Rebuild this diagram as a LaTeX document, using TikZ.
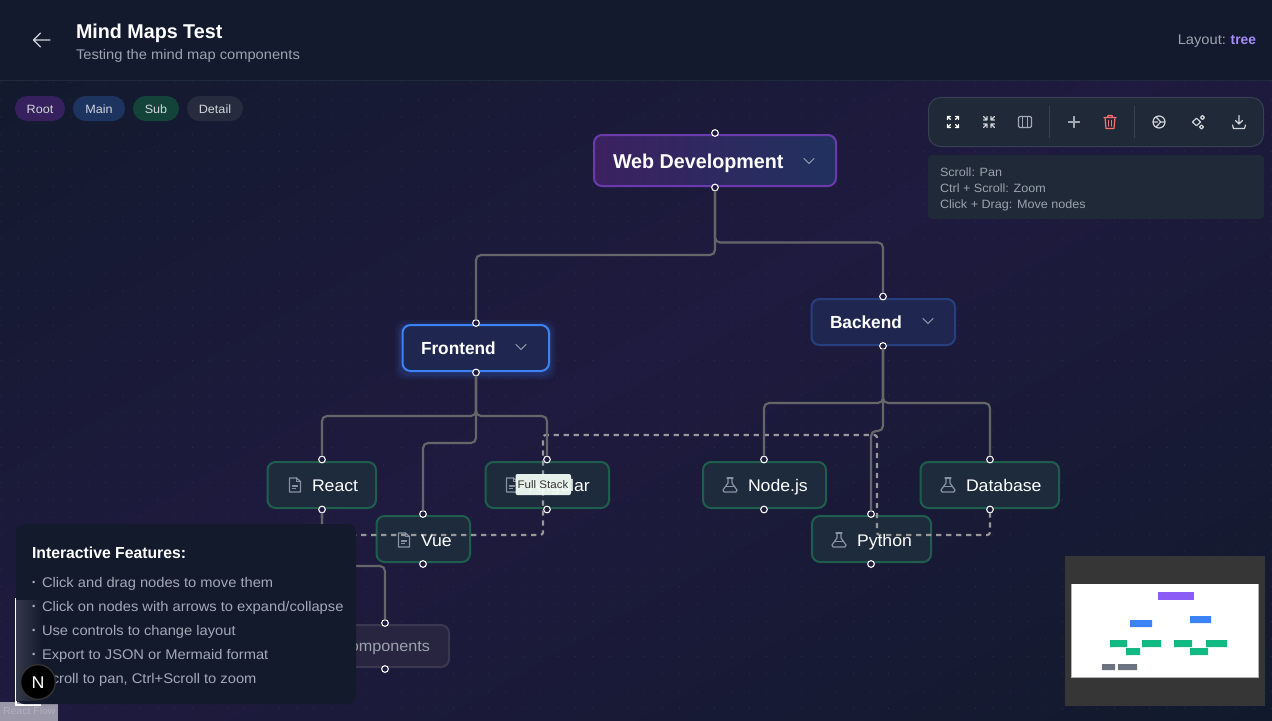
\documentclass[tikz,border=0pt]{standalone}
\usepackage{fontspec}
\setmainfont[FakeStretch=1.05,BoldFeatures={FakeStretch=0.985}]{Liberation Sans}
\usetikzlibrary{calc}
\definecolor{bgA}{HTML}{111A2C}
\definecolor{bgB}{HTML}{1F1A3F}
\definecolor{headbg}{HTML}{131A2E}
\definecolor{headline}{HTML}{1F2A3C}
\definecolor{dotc}{HTML}{312E48}
\definecolor{mutedtxt}{HTML}{9CA3AF}
\definecolor{paneltxt}{HTML}{A3A9B5}
\definecolor{edgec}{HTML}{666669}
\definecolor{dashc}{HTML}{98989B}
\definecolor{subfill}{HTML}{1D2B3D}
\definecolor{subline}{HTML}{1F5E4C}
\definecolor{mainfill}{HTML}{1F2750}
\definecolor{mainline}{HTML}{263F7E}
\definecolor{selline}{HTML}{3B82F6}
\definecolor{detfill}{HTML}{272540}
\definecolor{detline}{HTML}{3A3850}
\definecolor{rootline}{HTML}{6B3BAE}
\definecolor{rootL}{HTML}{3C2161}
\definecolor{rootR}{HTML}{20315F}
\definecolor{pillR}{HTML}{36215E}
\definecolor{pillM}{HTML}{1D3461}
\definecolor{pillS}{HTML}{14433A}
\definecolor{pillD}{HTML}{272B3E}
\definecolor{toolbg}{HTML}{1F2937}
\definecolor{toolline}{HTML}{374151}
\definecolor{iconc}{HTML}{D1D5DB}
\definecolor{plusc}{HTML}{A3A9B3}
\definecolor{redc}{HTML}{F87171}
\definecolor{icongray}{HTML}{8792A2}
\definecolor{chevc}{HTML}{9CA3AF}
\definecolor{panelbg}{HTML}{131A2C}
\definecolor{purpc}{HTML}{A78BFA}
\definecolor{mintc}{HTML}{F3FDF6}
\definecolor{mmP}{HTML}{8B5CF6}
\definecolor{mmB}{HTML}{3B82F6}
\definecolor{mmG}{HTML}{10B981}
\definecolor{mmD}{HTML}{6B7280}
\pgfdeclarehorizontalshading{bgsh}{100bp}{color(0bp)=(bgA); color(37.5bp)=(bgA); color(50bp)=(bgB); color(62.5bp)=(bgA); color(100bp)=(bgA)}
\newcommand\fs[1]{\fontsize{\fpeval{#1*0.75}}{\fpeval{#1*0.9}}\selectfont}
\newcommand\boxnode[6]{\node[#2,minimum width={(#4-#3)*0.75pt},minimum height={(#6-#5)*0.75pt}] (#1) at ({(#3+#4)/2},{(#5+#6)/2}) {};}
\newcommand\chev[2]{\draw[iconline,chevc,line width=0.75pt] (#1-5,#2-2.5) -- (#1,#2+2.5) -- (#1+5,#2-2.5);}
\newcommand\blt{\makebox[7.5pt][l]{\raisebox{1pt}{\fs{9}•}}}
\newcommand\fileicon[2]{\begin{scope}[shift={(#1,#2)},iconline,icongray]
  \draw[line join=round] (-5.5,-7) -- (1.5,-7) -- (5.5,-3.5) -- (5.5,7) -- (-5.5,7) -- cycle;
  \draw (1.5,-7) -- (1.5,-3.5) -- (5.5,-3.5);
  \draw (-2.5,1) -- (2.5,1) (-2.5,3.5) -- (0.5,3.5);
\end{scope}}
\newcommand\flaskicon[2]{\begin{scope}[shift={(#1,#2)},iconline,icongray]
  \draw (-3,-7) -- (3,-7);
  \draw[line join=round] (-2,-7) -- (-2,-2) -- (-7,5) -- (-6,7) -- (6,7) -- (7,5) -- (2,-2) -- (2,-7);
  \draw (-4.5,1.5) -- (4.5,1.5);
\end{scope}}
\tikzset{
  every node/.style={inner sep=0pt,outer sep=0pt},
  iconline/.style={line width=0.9pt,line cap=round,line join=round},
  lbl/.style={font=\fs{#1},anchor=base west,text=white},
  lblc/.style={font=\fs{#1},anchor=base,text=white},
  rootbox/.style={rectangle,rounded corners=6pt,draw=rootline,line width=1.5pt,left color=rootL,right color=rootR},
  mainbox/.style={rectangle,rounded corners=6pt,draw=mainline,line width=1.5pt,fill=mainfill},
  selbox/.style={rectangle,rounded corners=6pt,draw=selline,line width=1.5pt,fill=mainfill},
  subbox/.style={rectangle,rounded corners=6pt,draw=subline,line width=1.5pt,fill=subfill},
  detbox/.style={rectangle,rounded corners=6pt,draw=detline,line width=1.5pt,fill=detfill},
  pill/.style={rectangle,rounded corners=9.3pt},
  hand/.style={circle,draw=white,fill=bgB,line width=0.8pt,minimum size=5pt},
  edge/.style={draw=edgec,line width=1.6pt,rounded corners=3.75pt},
  dashedge/.style={draw=dashc,line width=1.6pt,rounded corners=2pt,dash pattern=on 4pt off 3.5pt},
}
\begin{document}
\begin{tikzpicture}[x=0.75pt,y=-0.75pt]
\useasboundingbox (0,0) rectangle (1272,721);
\clip (0,0) rectangle (1272,721);
% page gradient
\shade[shading=bgsh,shading angle=-60.46] (636-1254,360.5-1254) rectangle (636+1254,360.5+1254);
% dot grid
\foreach \i in {0,...,73} \foreach \j in {4,...,41}
  \fill[dotc] ({1.1+\i*17.4},{12.5+\j*17.4}) circle (0.6);
% header
\fill[headbg] (0,0) rectangle (1272,80);
\draw[headline,line width=0.75pt] (0,80.5) -- (1272,80.5);
\draw[iconline,iconc,line width=1pt] (50,40) -- (33.5,40) (40.5,33) -- (33.5,40) -- (40.5,47);
\node[lbl=20,font=\fs{20}\bfseries] (title) at (76,38) {Mind Maps Test};
\node[lbl=14,text=mutedtxt] (subtitle) at (76,59) {Testing the mind map components};
\node[lbl=14,text=mutedtxt,anchor=base east] (layoutlbl) at (1226,45) {Layout:};
\node[lbl=14,text=purpc,font=\fs{14}\bfseries,anchor=base east] (layoutval) at (1256,45) {tree};
% legend
\boxnode{pillroot}{pill,fill=pillR}{15}{65}{96}{121}
\boxnode{pillmain}{pill,fill=pillM}{73}{125}{96}{121}
\boxnode{pillsub}{pill,fill=pillS}{133}{179}{96}{121}
\boxnode{pilldet}{pill,fill=pillD}{187}{243}{96}{121}
\node[lblc=12,text=iconc] (troot) at (40,113) {Root};
\node[lblc=12,text=iconc] (tmain) at (99,113) {Main};
\node[lblc=12,text=iconc] (tsub) at (156,113) {Sub};
\node[lblc=12,text=iconc] (tdet) at (215,113) {Detail};
% glow of the selected node
\foreach \g/\o in {7/0.05,5/0.07,3/0.1}
  \fill[selline,opacity=\o,rounded corners=7pt] (402-\g,325-\g+2) rectangle (549+\g,371+\g+2);
% node boxes
\boxnode{web}{rootbox}{594}{836}{135}{186}
\boxnode{front}{selbox}{402.5}{549}{325}{371}
\boxnode{back}{mainbox}{811.5}{955}{299}{345}
\boxnode{react}{subbox}{267.5}{376}{462}{508}
\boxnode{vue}{subbox}{376.5}{470}{516}{562}
\boxnode{angular}{subbox}{485.5}{609}{462}{508}
\boxnode{nodejs}{subbox}{703}{826}{462}{508}
\boxnode{python}{subbox}{812}{931}{516}{562}
\boxnode{database}{subbox}{920.5}{1059}{462}{508}
\boxnode{comps}{detbox}{300}{449}{625}{667}
% handles
\node[hand] (webT) at (715,133) {};
\node[hand] (webB) at (715,187.5) {};
\node[hand] (frontT) at (476,323) {};
\node[hand] (frontB) at (476,372.5) {};
\node[hand] (backT) at (883,296.5) {};
\node[hand] (backB) at (883,346) {};
\node[hand] (reactT) at (322,459.5) {};
\node[hand] (reactB) at (322,509.5) {};
\node[hand] (vueT) at (423,514) {};
\node[hand] (vueB) at (423,564) {};
\node[hand] (angT) at (547,459.5) {};
\node[hand] (angB) at (547,509.5) {};
\node[hand] (nodeT) at (764,459.5) {};
\node[hand] (nodeB) at (764,509.5) {};
\node[hand] (pyT) at (871,514) {};
\node[hand] (pyB) at (871,564) {};
\node[hand] (dbT) at (990,459.5) {};
\node[hand] (dbB) at (990,509.5) {};
\node[hand] (compT) at (385,623) {};
\node[hand] (compB) at (385,669) {};
% connectors
\draw[dashedge] (reactB) -- (reactB |- 0,535) -- (543,535) -- (543,435) -- (877,435) -- (877,535) -- (dbB |- 0,535) -- (dbB);
\draw[edge] (webB) -- (webB |- 0,242.5) -- (backT |- 0,242.5) -- (backT);
\draw[edge] (webB) -- (webB |- 0,255) -- (frontT |- 0,255) -- (frontT);
\draw[edge] (frontB) -- (frontB |- 0,416) -- (reactT |- 0,416) -- (reactT);
\draw[edge] (frontB) -- (frontB |- 0,416) -- (angT |- 0,416) -- (angT);
\draw[edge] (frontB) -- (frontB |- 0,443) -- (vueT |- 0,443) -- (vueT);
\draw[edge] (backB) -- (backB |- 0,403) -- (nodeT |- 0,403) -- (nodeT);
\draw[edge] (backB) -- (backB |- 0,403) -- (dbT |- 0,403) -- (dbT);
\draw[edge] (backB) -- (backB |- 0,431) -- (pyT |- 0,431) -- (pyT);
\draw[edge] (reactB) -- (reactB |- 0,566) -- (compT |- 0,566) -- (compT);
% node texts and icons
\node[lbl=20,font=\fs{20}\bfseries] (tweb) at (613,168) {Web Development};
\chev{809}{161}
\node[lbl=17.5,font=\fs{17.5}\bfseries] (tfront) at (421,354) {Frontend};
\chev{521}{347}
\node[lbl=17.5,font=\fs{17.5}\bfseries] (tback) at (830,328) {Backend};
\chev{928}{321}
\fileicon{295}{485}
\node[lbl=16.8] (treact) at (312,491) {React};
\fileicon{404}{540}
\node[lbl=16.8] (tvue) at (421,546) {Vue};
\fileicon{512}{485}
\node[lbl=16.8] (tang) at (529,491) {Angular};
\flaskicon{730}{485}
\node[lbl=16.8] (tnode) at (748,491) {Node.js};
\flaskicon{948}{485}
\node[lbl=16.8] (tdb) at (966,491) {Database};
\flaskicon{839}{540}
\node[lbl=16.8] (tpy) at (857,546) {Python};
\node[lbl=15.4,text=mutedtxt,anchor=base east] (tcomp) at (430,651) {Components};
% edge label
\boxnode{fullbox}{rectangle,rounded corners=1.5pt,fill=mintc,fill opacity=0.94}{515.5}{571}{474}{495}
\node[lblc=11,text=black!80] (tfull) at (543,488.5) {Full Stack};
% toolbar
\boxnode{toolbar}{rectangle,rounded corners=9pt,fill=toolbg,draw=toolline,line width=0.75pt}{928.5}{1263.5}{97.5}{146.5}
\draw[toolline,line width=0.75pt] (1049.5,106) -- (1049.5,138) (1134.5,106) -- (1134.5,138);
\begin{scope}[shift={(953,122)},iconline,white]
  \foreach \a/\b in {1/1,1/-1,-1/1,-1/-1}
    \draw (\a*5.5,\b*2.5) -- (\a*5.5,\b*5.5) -- (\a*2.5,\b*5.5) (\a*5.5,\b*5.5) -- (\a*2.5,\b*2.5);
\end{scope}
\begin{scope}[shift={(989,122)},iconline,iconc]
  \foreach \a/\b in {1/1,1/-1,-1/1,-1/-1}
    \draw (\a*2,\b*5.5) -- (\a*2,\b*2) -- (\a*5.5,\b*2) (\a*2,\b*2) -- (\a*5.5,\b*5.5);
\end{scope}
\begin{scope}[shift={(1025,122)},iconline,plusc]
  \draw[rounded corners=1pt] (-6.5,-5.5) rectangle (6.5,5.5);
  \draw (-2.2,-5.5) -- (-2.2,5.5) (2.2,-5.5) -- (2.2,5.5);
\end{scope}
\draw[iconline,plusc] (1074,116.5) -- (1074,127.5) (1068.5,122) -- (1079.5,122);
\begin{scope}[shift={(1110,122)},iconline,redc]
  \draw (-6,-4.5) -- (6,-4.5) (-2.5,-4.5) -- (-2,-6.5) -- (2,-6.5) -- (2.5,-4.5);
  \draw (-5,-4.5) -- (-4,6.5) -- (4,6.5) -- (5,-4.5);
  \draw (-1.6,-1.5) -- (-1.6,4) (1.6,-1.5) -- (1.6,4);
\end{scope}
\begin{scope}[shift={(1159,122)},iconline,iconc]
  \draw (0,0) circle (6);
  \draw (-3,-5) -- (1.8,0) -- (-3,5) (-5.8,0) -- (-1.5,0) (1.8,0) -- (5.8,0);
\end{scope}
\begin{scope}[shift={(1199,122)},iconline,iconc]
  \draw (-6.5,0) -- (-2.5,-3.8) -- (1.5,0) -- (-2.5,3.8) -- cycle;
  \draw (3.5,-6.5) -- (5.5,-4.5) -- (3.5,-2.5) -- (1.5,-4.5) -- cycle;
  \draw (2.5,3) -- (4.5,5) -- (2.5,7) -- (0.5,5) -- cycle;
\end{scope}
\begin{scope}[shift={(1239,122)},iconline,iconc]
  \draw (0,-6.5) -- (0,2) (-3.5,-1.5) -- (0,2) -- (3.5,-1.5);
  \draw (-6.5,3) -- (-5.5,6.5) -- (5.5,6.5) -- (6.5,3);
\end{scope}
% help panel
\boxnode{helpbox}{rectangle,rounded corners=3pt,fill=toolbg}{928}{1264}{155}{219}
\node[lbl=12,text=mutedtxt] (h1) at (940,176) {Scroll: Pan};
\node[lbl=12,text=mutedtxt] (h2) at (940,192) {Ctrl + Scroll: Zoom};
\node[lbl=12,text=mutedtxt] (h3) at (940,208) {Click + Drag: Move nodes};
% attribution
\boxnode{rfbox}{rectangle,fill=white!55!bgB}{0}{58}{702}{721}
\node[lbl=10,text=white!66!bgB] (rf) at (3,714.5) {React Flow};
% white outline under the features panel
\draw[white,line width=1.5pt] (15.5,598) -- (15.5,704.5) -- (41,704.5);
% features panel
\boxnode{features}{rectangle,rounded corners=6pt,fill=panelbg}{16}{356}{524}{704}
\shade[left color=white!14!panelbg,right color=panelbg,draw=none] (16,600) rectangle (42,700);
\node[lbl=16,font=\fs{16}\bfseries] (ftitle) at (32,558) {Interactive Features:};
\node[lbl=14,text=paneltxt] (f1) at (32,587) {\blt Click and drag nodes to move them};
\node[lbl=14,text=paneltxt] (f2) at (32,611) {\blt Click on nodes with arrows to expand/collapse};
\node[lbl=14,text=paneltxt] (f3) at (32,635) {\blt Use controls to change layout};
\node[lbl=14,text=paneltxt] (f4) at (32,659) {\blt Export to JSON or Mermaid format};
\node[lbl=14,text=paneltxt] (f5) at (32,683) {\blt Scroll to pan, Ctrl+Scroll to zoom};
% N badge
\node[circle,fill=black,draw=black!80!white,line width=1pt,minimum size=26pt] (nbadge) at (38,682) {};
\node[lblc=17] (ntext) at (38,688.5) {N};
% minimap
\fill[black!79] (1065,556) rectangle (1265,706);
\fill[black!30] (1071,584) rectangle (1259,678);
\fill[white] (1071.7,584) rectangle (1258.3,677.2);
\fill[mmP] (1158,592) rectangle (1194,600);
\fill[mmB] (1130,620) rectangle (1152,627) (1190,616) rectangle (1211,623);
\fill[mmG] (1110,640) rectangle (1127,647) (1142,640) rectangle (1161,647) (1174,640) rectangle (1192,647) (1206,640) rectangle (1227,647) (1126,648) rectangle (1140,655) (1190,648) rectangle (1208,655);
\fill[mmD] (1102,664) rectangle (1115,670) (1118,664) rectangle (1137,670);
\end{tikzpicture}
\end{document}
